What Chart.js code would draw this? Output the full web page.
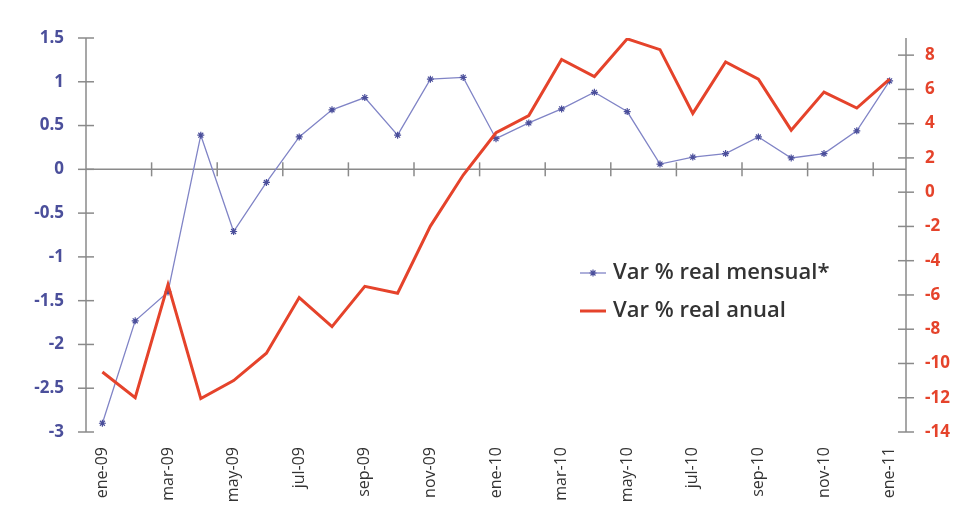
<!DOCTYPE html>
<html>
<head>
<meta charset="utf-8">
<script src="https://cdn.jsdelivr.net/npm/chart.js@4"></script>
<style>
  body { margin: 0; background: #fff; }
  canvas { display: block; }
</style>
</head>
<body>
<canvas id="chart" width="960" height="512"></canvas>
<script>
// Categories (monthly, ene-09 .. ene-11)
const months = ['ene-09', 'feb-09', 'mar-09', 'abr-09', 'may-09', 'jun-09', 'jul-09', 'ago-09', 'sep-09', 'oct-09', 'nov-09', 'dic-09',
    'ene-10', 'feb-10', 'mar-10', 'abr-10', 'may-10', 'jun-10', 'jul-10', 'ago-10', 'sep-10', 'oct-10', 'nov-10', 'dic-10', 'ene-11'];

// Var % real mensual* (left axis)
const mensual = [-2.9, -1.73, -1.4, 0.39, -0.71, -0.15, 0.37, 0.68, 0.82, 0.39, 1.03, 1.05,
    0.35, 0.53, 0.69, 0.88, 0.66, 0.06, 0.14, 0.18, 0.37, 0.13, 0.18, 0.44, 1.01];

// Var % real anual (right axis)
const anual = [-10.5, -12.0, -5.4, -12.05, -11.0, -9.4, -6.15, -7.85, -5.5, -5.9, -1.98, 1.0,
    3.47, 4.47, 7.75, 6.75, 8.95, 8.32, 4.6, 7.6, 6.6, 3.62, 5.84, 4.91, 6.6];

// Tick values
const leftTicks = [-3, -2.5, -2, -1.5, -1, -0.5, 0, 0.5, 1, 1.5];
const rightTicks = [-14, -12, -10, -8, -6, -4, -2, 0, 2, 4, 6, 8];

const blue = '#4b4f9b';
const blueLine = '#8084c6';
const red = '#e5432b';
const axisGray = '#8a8a8a';
const fontFamily = '"Open Sans", "DejaVu Sans", sans-serif';

function line(ctx, x1, y1, x2, y2) {
    ctx.beginPath();
    ctx.moveTo(x1, y1);
    ctx.lineTo(x2, y2);
    ctx.stroke();
}

// Axes drawn like the original: ticks crossing the axis lines, x axis at zero
const crossAxes = {
    id: 'crossAxes',
    beforeDatasetsDraw(chart) {
        const { ctx, chartArea, scales } = chart;
        const x = scales.x, yL = scales.yLeft, yR = scales.yRight;
        ctx.save();
        ctx.strokeStyle = axisGray;
        ctx.lineWidth = 1.5;

        line(ctx, chartArea.left, chartArea.top, chartArea.left, chartArea.bottom);
        line(ctx, chartArea.right, chartArea.top, chartArea.right, chartArea.bottom);

        const y0 = yL.getPixelForValue(0);
        line(ctx, chartArea.left, y0, chartArea.right, y0);

        for (let i = 2; i < months.length; i += 2) {
            const bx = (x.getPixelForTick(i - 1) + x.getPixelForTick(i)) / 2;
            line(ctx, bx, y0 - 7, bx, y0 + 7);
        }
        yL.ticks.forEach(t => {
            const py = yL.getPixelForValue(t.value);
            line(ctx, chartArea.left - 8, py, chartArea.left + 8, py);
        });
        yR.ticks.forEach(t => {
            const py = yR.getPixelForValue(t.value);
            line(ctx, chartArea.right - 8, py, chartArea.right + 8, py);
        });
        ctx.restore();
    },
    afterDraw(chart) {
        // Legend inside the plot
        const { ctx } = chart;
        const ds = chart.data.datasets;
        const lx = 580, ly = 273, gap = 38;
        ctx.save();
        ctx.font = '600 22px ' + fontFamily;
        ctx.textBaseline = 'middle';
        ds.forEach((d, i) => {
            const y = ly + i * gap;
            ctx.strokeStyle = d.borderColor;
            ctx.lineWidth = d.borderWidth;
            line(ctx, lx, y, lx + 26, y);
            if (d.pointRadius > 0) {
                ctx.fillStyle = blue;
                ctx.strokeStyle = blue;
                ctx.lineWidth = 1.2;
                Chart.helpers.drawPoint(ctx, { pointStyle: 'star', radius: 3.5, borderWidth: 1.2 }, lx + 13, y);
            }
            ctx.fillStyle = '#333';
            ctx.fillText(d.label, lx + 33, y);
        });
        ctx.restore();
    }
};

new Chart(document.getElementById('chart'), {
    type: 'line',
    data: {
        labels: months,
        datasets: [
            {
                label: 'Var % real mensual*',
                data: mensual,
                yAxisID: 'yLeft',
                borderColor: blueLine,
                borderWidth: 1.3,
                pointStyle: 'star',
                pointRadius: 3.5,
                pointBorderColor: blue,
                pointBorderWidth: 1.2,
                pointBackgroundColor: blue,
                tension: 0,
                order: 1
            },
            {
                label: 'Var % real anual',
                data: anual,
                yAxisID: 'yRight',
                borderColor: red,
                borderWidth: 3,
                pointRadius: 0,
                tension: 0,
                order: 0
            }
        ]
    },
    options: {
        responsive: false,
        animation: false,
        layout: { padding: { top: 38 } },
        plugins: {
            legend: { display: false },
            tooltip: { enabled: false }
        },
        scales: {
            x: {
                offset: true,
                grid: { display: false, drawTicks: false },
                border: { display: false },
                afterFit: scale => { scale.height = 80; },
                ticks: {
                    autoSkip: false,
                    minRotation: 90,
                    maxRotation: 90,
                    padding: 15,
                    color: '#333',
                    font: { family: fontFamily, size: 16 },
                    callback: (v, i) => (i % 2 === 0 ? months[i] : '')
                }
            },
            yLeft: {
                position: 'left',
                min: -3,
                max: 1.5,
                grid: { display: false, drawTicks: false },
                border: { display: false },
                afterFit: scale => { scale.width = 86; },
                afterBuildTicks: scale => { scale.ticks = leftTicks.map(v => ({ value: v })); },
                ticks: {
                    padding: 22,
                    color: blue,
                    font: { family: fontFamily, size: 17, weight: 'bold' },
                    callback: v => String(v)
                }
            },
            yRight: {
                position: 'right',
                min: -14,
                max: 9,
                grid: { display: false, drawTicks: false },
                border: { display: false },
                afterFit: scale => { scale.width = 54; },
                afterBuildTicks: scale => { scale.ticks = rightTicks.map(v => ({ value: v })); },
                ticks: {
                    padding: 19,
                    color: red,
                    font: { family: fontFamily, size: 17, weight: 'bold' },
                    callback: v => String(v)
                }
            }
        }
    },
    plugins: [crossAxes]
});
</script>
</body>
</html>
